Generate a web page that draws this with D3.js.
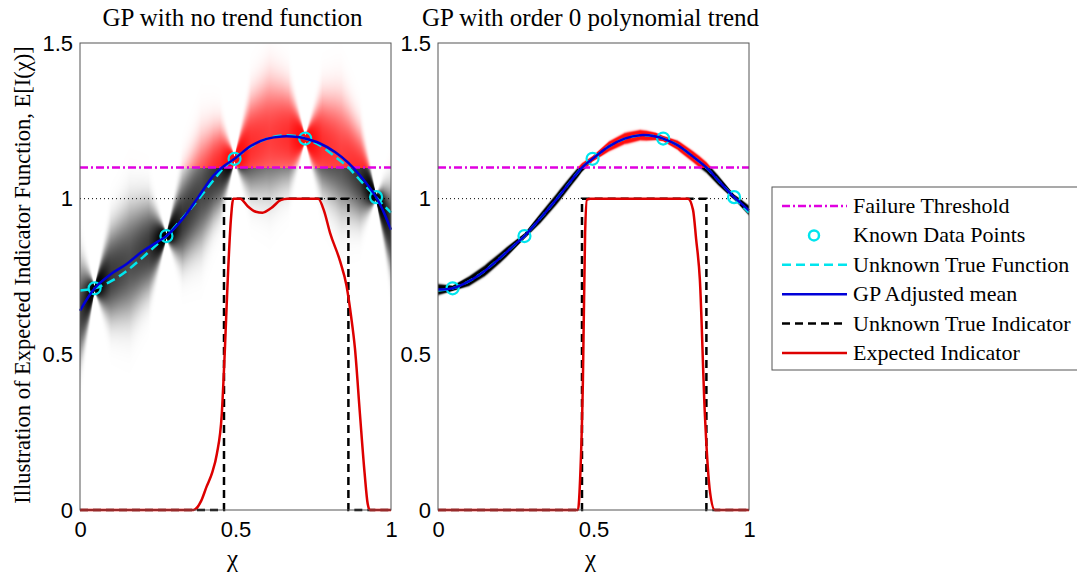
<!DOCTYPE html>
<html>
<head>
<meta charset="utf-8">
<script src="https://cdn.jsdelivr.net/npm/d3@7"></script>
<style>
	body { margin: 0; background: #fff; }
	svg { display: block; }
	.serif { font-family: "Liberation Serif", "Times New Roman", serif; }
	.tick text { font-family: "Liberation Sans", Arial, sans-serif; font-size: 22px; fill: #000; }
</style>
</head>
<body>
<svg id="chart" width="1077" height="573"></svg>
<script>
// values
var gridX = [0, 0.047, 0.1, 0.15, 0.2, 0.25, 0.278, 0.33, 0.38, 0.43, 0.463, 0.497, 0.55, 0.6, 0.65, 0.7, 0.724, 0.77, 0.82, 0.863, 0.9, 0.952, 0.975, 1];
var trueY = [0.705, 0.712, 0.735, 0.768, 0.81, 0.855, 0.88, 0.938, 0.997, 1.06, 1.1, 1.128, 1.168, 1.192, 1.203, 1.2, 1.193, 1.172, 1.135, 1.1, 1.06, 1.005, 0.98, 0.955];
var meanNoTrend = [0.64, 0.712, 0.758, 0.79, 0.83, 0.862, 0.88, 0.935, 1.005, 1.075, 1.105, 1.128, 1.17, 1.192, 1.2, 1.198, 1.193, 1.178, 1.15, 1.115, 1.075, 1.005, 0.96, 0.9];
var meanOrder0 = [0.708, 0.712, 0.735, 0.768, 0.81, 0.855, 0.88, 0.938, 0.997, 1.06, 1.1, 1.128, 1.168, 1.193, 1.204, 1.2, 1.193, 1.172, 1.135, 1.1, 1.06, 1.005, 0.985, 0.962];

var sigmaX = [0, 0.047, 0.1, 0.16, 0.22, 0.278, 0.33, 0.39, 0.45, 0.497, 0.55, 0.61, 0.67, 0.724, 0.78, 0.84, 0.9, 0.952, 1];
var sigmaNoTrend = [0.09, 0.003, 0.08, 0.1, 0.08, 0.003, 0.075, 0.095, 0.07, 0.003, 0.08, 0.1, 0.08, 0.003, 0.08, 0.1, 0.075, 0.003, 0.075];
var sigmaOrder0 = [0.007, 0.003, 0.006, 0.007, 0.006, 0.003, 0.006, 0.007, 0.006, 0.003, 0.006, 0.007, 0.006, 0.003, 0.006, 0.007, 0.006, 0.003, 0.006];

var knownX = [0.047, 0.278, 0.497, 0.724, 0.952];
var knownY = [0.712, 0.88, 1.128, 1.193, 1.005];

var indicatorX = [0, 0.463, 0.463, 0.863, 0.863, 1];
var indicatorY = [0, 0, 1, 1, 0, 0];

var expNoTrendX = [0, 0.365, 0.39, 0.407, 0.425, 0.44, 0.456, 0.466, 0.475, 0.485, 0.493, 0.515, 0.54, 0.565, 0.587, 0.615, 0.645, 0.667, 0.766, 0.785, 0.804, 0.836, 0.857, 0.872, 0.884, 0.9, 0.915, 0.925, 0.932, 1];
var expNoTrendY = [0, 0, 0.03, 0.075, 0.12, 0.18, 0.31, 0.52, 0.74, 0.93, 1.0, 1.0, 0.975, 0.958, 0.955, 0.97, 0.995, 1.0, 1.0, 0.96, 0.89, 0.8, 0.72, 0.62, 0.52, 0.31, 0.12, 0.02, 0, 0];
var expOrder0X = [0, 0.45, 0.457, 0.466, 0.473, 0.479, 0.49, 0.804, 0.82, 0.83, 0.842, 0.858, 0.875, 0.89, 1];
var expOrder0Y = [0, 0, 0.1, 0.42, 0.89, 0.997, 1, 1, 0.964, 0.87, 0.74, 0.31, 0.055, 0, 0];

var threshold = 1.1;
var xTicks = [0, 0.5, 1];
var yTicks = [0, 0.5, 1, 1.5];
var titles = ["GP with no trend function", "GP with order 0 polynomial trend"];
var legendLabels = ["Failure Threshold", "Known Data Points", "Unknown True Function", "GP Adjusted mean", "Unknown True Indicator", "Expected Indicator"];

var colors = {
	thresh: "#e000e0",
	known: "#00e5ee",
	truth: "#00e5ee",
	mean: "#0000d8",
	ind: "#000",
	exp: "#dd0000"
};

var svg = d3.select("#chart");

var plotTop = 43, plotBottom = 510;
var panels = [
	{ left: 80, right: 391, title: titles[0], mean: meanNoTrend, sigma: sigmaNoTrend, ex: expNoTrendX, ey: expNoTrendY },
	{ left: 438, right: 749, title: titles[1], mean: meanOrder0, sigma: sigmaOrder0, ex: expOrder0X, ey: expOrder0Y }
];

function drawDensity(g, x, y, mean, sigma) {
	var x0 = x.range()[0], y0 = y.range()[1];
	var w = Math.round(x.range()[1] - x0), h = Math.round(y.range()[0] - y0);
	var cv = document.createElement("canvas");
	cv.width = w;
	cv.height = h;
	var c = cv.getContext("2d");
	var img = c.createImageData(w, h);
	var mu = d3.scaleLinear().domain(gridX).range(mean);
	var sd = d3.scaleLinear().domain(sigmaX).range(sigma);
	for (var i = 0; i < w; i++) {
		var xv = x.invert(x0 + i + 0.5);
		var m = mu(xv), s = Math.max(sd(xv), 0.002);
		for (var j = 0; j < h; j++) {
			var yv = y.invert(y0 + j + 0.5);
			var z = (yv - m) / s;
			var p = Math.exp(-0.5 * z * z) / (s * 2.5066);
			var k = (j * w + i) * 4;
			if (yv > threshold) {
				var vr = 1 - Math.exp(-0.4 * p);
				img.data[k] = 255;
				img.data[k + 1] = Math.round(255 * (1 - 0.95 * vr));
				img.data[k + 2] = Math.round(255 * (1 - 0.95 * vr));
			} else {
				var g2 = Math.round(255 * Math.exp(-0.3 * p));
				img.data[k] = g2;
				img.data[k + 1] = g2;
				img.data[k + 2] = g2;
			}
			img.data[k + 3] = 255;
		}
	}
	c.putImageData(img, 0, 0);
	g.append("image")
		.attr("x", x0).attr("y", y0)
		.attr("width", w).attr("height", h)
		.attr("preserveAspectRatio", "none")
		.attr("href", cv.toDataURL());
}

panels.forEach(function(p) {
	var x = d3.scaleLinear().domain([0, 1]).range([p.left, p.right]);
	var y = d3.scaleLinear().domain([0, 1.5]).range([plotBottom, plotTop]);
	var g = svg.append("g");

	drawDensity(g, x, y, p.mean, p.sigma);

	// dotted reference at 1
	g.append("line")
		.attr("x1", x(0)).attr("x2", x(1))
		.attr("y1", y(1)).attr("y2", y(1))
		.attr("stroke", "#000").attr("stroke-width", 1)
		.attr("stroke-dasharray", "1,3");

	g.append("line")
		.attr("x1", x(0)).attr("x2", x(1))
		.attr("y1", y(threshold)).attr("y2", y(threshold))
		.attr("stroke", colors.thresh).attr("stroke-width", 2.5)
		.attr("stroke-dasharray", "8,3,2,3");

	var smooth = d3.line()
		.x(function(d) { return x(d[0]); })
		.y(function(d) { return y(d[1]); })
		.curve(d3.curveCatmullRom);
	var straight = d3.line()
		.x(function(d) { return x(d[0]); })
		.y(function(d) { return y(d[1]); });
	var mono = d3.line()
		.x(function(d) { return x(d[0]); })
		.y(function(d) { return y(d[1]); })
		.curve(d3.curveMonotoneX);

	g.selectAll(".known")
		.data(d3.zip(knownX, knownY))
		.enter().append("circle")
		.attr("cx", function(d) { return x(d[0]); })
		.attr("cy", function(d) { return y(d[1]); })
		.attr("r", 6)
		.attr("fill", "none")
		.attr("stroke", colors.known)
		.attr("stroke-width", 2.2);

	g.append("path")
		.attr("d", smooth(d3.zip(gridX, trueY)))
		.attr("fill", "none")
		.attr("stroke", colors.truth).attr("stroke-width", 2.5)
		.attr("stroke-dasharray", "9,5");

	g.append("path")
		.attr("d", smooth(d3.zip(gridX, p.mean)))
		.attr("fill", "none")
		.attr("stroke", colors.mean).attr("stroke-width", 2.5);

	g.append("path")
		.attr("d", straight(d3.zip(indicatorX, indicatorY)))
		.attr("fill", "none")
		.attr("stroke", colors.ind).attr("stroke-width", 2.5)
		.attr("stroke-dasharray", "8,5");

	g.append("path")
		.attr("d", mono(d3.zip(p.ex, p.ey)))
		.attr("fill", "none")
		.attr("stroke", colors.exp).attr("stroke-width", 2.5);

	// frame
	g.append("rect")
		.attr("x", x(0)).attr("y", y(1.5))
		.attr("width", x(1) - x(0)).attr("height", y(0) - y(1.5))
		.attr("fill", "none").attr("stroke", "#555").attr("stroke-width", 1);

	g.append("g")
		.attr("transform", "translate(0," + plotBottom + ")")
		.call(d3.axisBottom(x).tickValues(xTicks).tickSize(0).tickPadding(11).tickFormat(d3.format("")))
		.call(function(a) { a.select(".domain").remove(); });

	g.append("g")
		.attr("transform", "translate(" + p.left + ",0)")
		.call(d3.axisLeft(y).tickValues(yTicks).tickSize(0).tickPadding(7).tickFormat(d3.format("")))
		.call(function(a) { a.select(".domain").remove(); });

	g.append("text")
		.attr("class", "serif")
		.attr("x", (p.left + p.right) / 2 - 3)
		.attr("y", 26)
		.attr("text-anchor", "middle")
		.attr("font-size", 25)
		.text(p.title);

	g.append("text")
		.attr("class", "serif")
		.attr("x", (p.left + p.right) / 2 - 3)
		.attr("y", 567)
		.attr("text-anchor", "middle")
		.attr("font-size", 25)
		.text("χ");
});

svg.append("text")
	.attr("class", "serif")
	.attr("transform", "translate(30,275) rotate(-90)")
	.attr("text-anchor", "middle")
	.attr("font-size", 22.5)
	.text("Illustration of Expected Indicator Function, E[I(χ)]");

// legend
var lg = svg.append("g").attr("transform", "translate(772,187)");
lg.append("rect")
	.attr("width", 320).attr("height", 183)
	.attr("fill", "#fff").attr("stroke", "#555").attr("stroke-width", 1);

var styles = [
	{ c: colors.thresh, dash: "8,3,2,3" },
	{ c: colors.known, marker: true },
	{ c: colors.truth, dash: "9,5" },
	{ c: colors.mean, dash: null },
	{ c: colors.ind, dash: "8,5" },
	{ c: colors.exp, dash: null }
];

var rows = lg.selectAll(".row")
	.data(legendLabels)
	.enter().append("g")
	.attr("transform", function(d, i) { return "translate(0," + (19 + i * 29.4) + ")"; });

rows.each(function(d, i) {
	var r = d3.select(this), s = styles[i];
	if (s.marker) {
		r.append("circle").attr("cx", 42).attr("cy", 0).attr("r", 5)
			.attr("fill", "none").attr("stroke", s.c).attr("stroke-width", 2.5);
	} else {
		r.append("line").attr("x1", 10).attr("x2", 75).attr("y1", 0).attr("y2", 0)
			.attr("stroke", s.c).attr("stroke-width", 2.5)
			.attr("stroke-dasharray", s.dash);
	}
	r.append("text")
		.attr("class", "serif")
		.attr("x", 81).attr("y", 7)
		.attr("font-size", 22)
		.text(d);
});
</script>
</body>
</html>
